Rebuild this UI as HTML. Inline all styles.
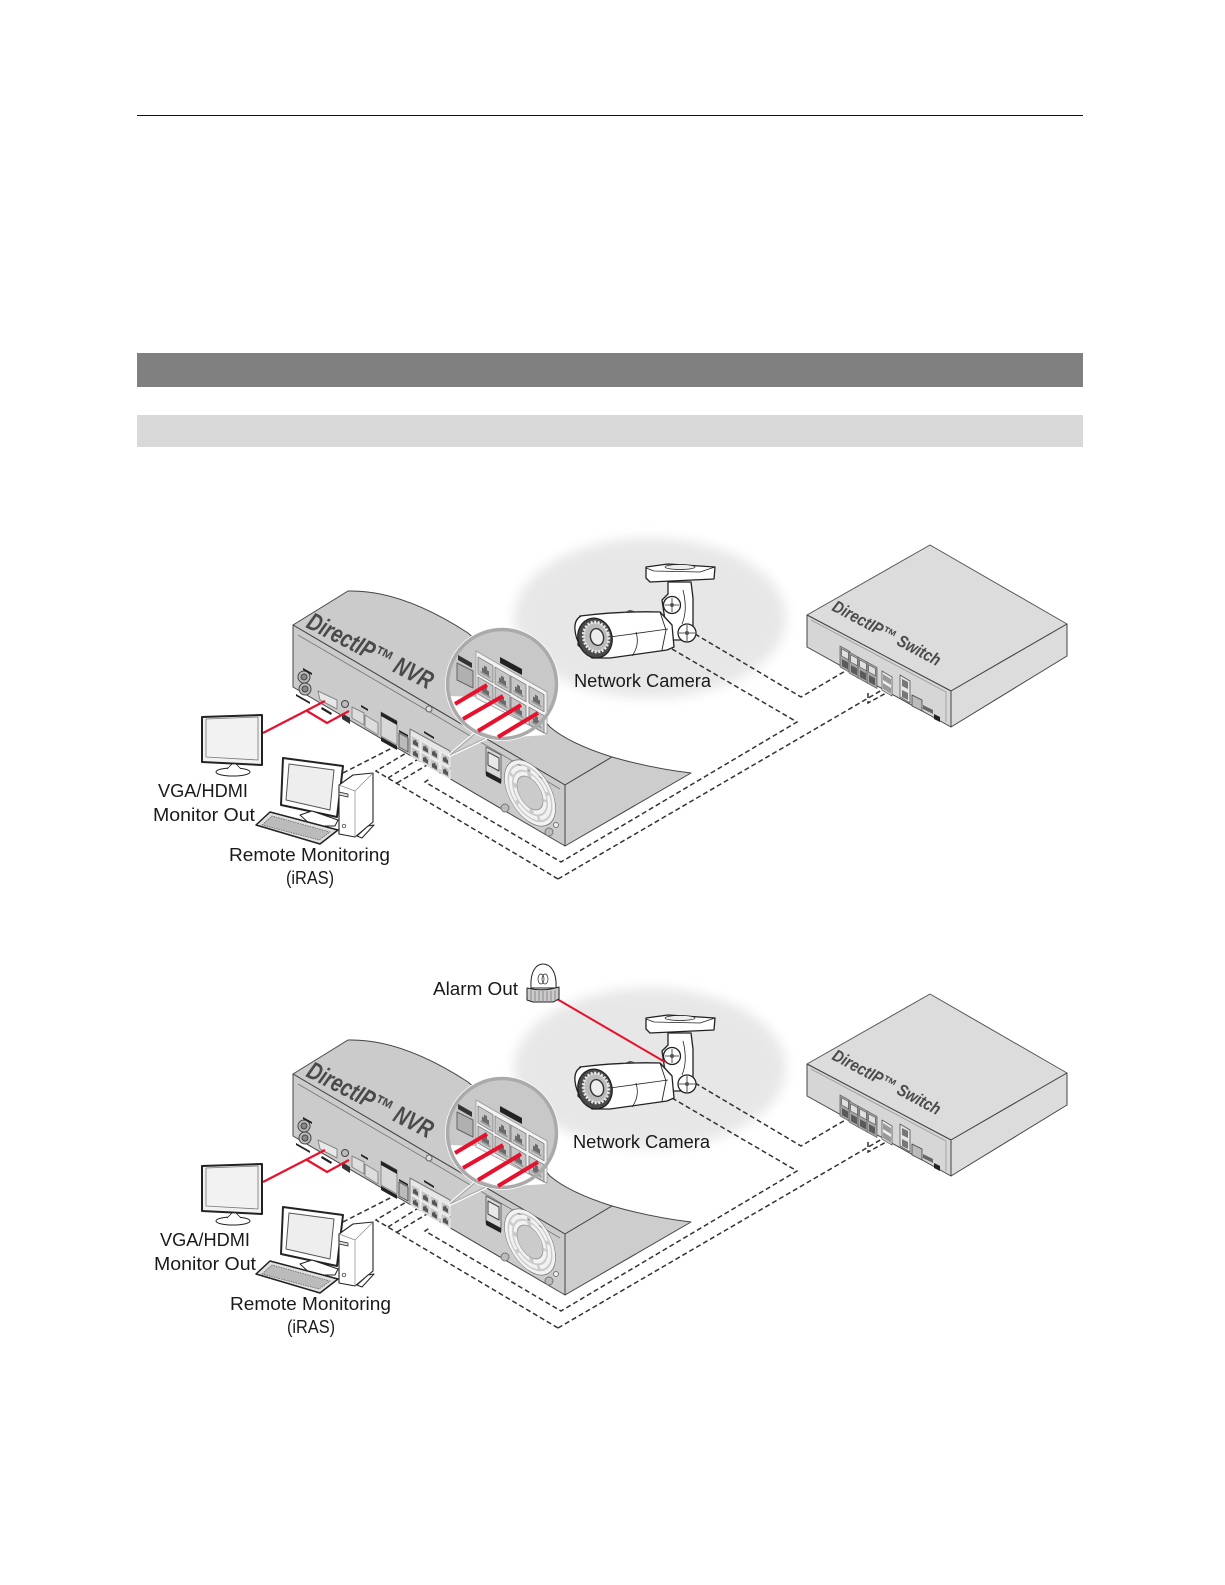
<!DOCTYPE html>
<html><head><meta charset="utf-8"><style>
html,body{margin:0;padding:0;background:#fff}
svg{display:block}
text{font-family:"Liberation Sans",sans-serif;fill:#1a1a1a}
.lb{font-size:18px}
.br{font-weight:bold;font-style:italic;fill:#4a4a4a}
</style></head><body>
<svg width="1225" height="1585" viewBox="0 0 1225 1585" xmlns="http://www.w3.org/2000/svg">
<defs>
<filter id="bl" x="-20%" y="-20%" width="140%" height="140%"><feGaussianBlur stdDeviation="6"/></filter>
<g id="rj"><rect x="0" y="0" width="15" height="17" fill="#c6c6c6" stroke="#777" stroke-width=".8"/><path d="M4 13V8h2V5h3v3h2v5z" fill="#6a6a6a"/><rect x="2.5" y="12.5" width="10" height="2" fill="#999"/></g>
<g id="rs"><rect x="0" y="0" width="9" height="10" fill="#c8c8c8" stroke="#f0f0f0" stroke-width="1"/><path d="M2 8V4h1.5V2.5h2V4H7v4z" fill="#555"/></g>
<g id="sp"><rect x="0" y="0" width="10" height="21" fill="#a5a5a5" stroke="#555" stroke-width=".7"/><rect x="1.5" y="2" width="7" height="7" fill="#e0e0e0" stroke="#444" stroke-width=".6"/><path d="M2 12h6v7H2z" fill="#5a5a5a"/></g>

<g id="ell"><ellipse cx="650" cy="618" rx="136" ry="80" fill="#e7e7e7" filter="url(#bl)"/></g>

<g id="cam" stroke="#222" stroke-width="1.3" stroke-linejoin="round">
 <path d="M646 567L668 564L715 567L714 579L650 582L646 578Z" fill="#fff"/>
 <path d="M646 568L654 571L700 572L715 567" fill="none" stroke-width=".8"/>
 <ellipse cx="680" cy="567" rx="15" ry="2.5" fill="#eee" stroke-width=".7"/>
 <path d="M668 582L668 594L662 600L668 640L690 640L693 630L693 598L691 582Z" fill="#fff"/>
 <path d="M683 590Q688 610 682 624" fill="none" stroke-width=".8"/>
 <circle cx="672" cy="605" r="8.5" fill="#fff"/>
 <path d="M672 598V612M665 605H679" fill="none" stroke-width=".8"/>
 <circle cx="672" cy="605" r="2" fill="#555" stroke="none"/>
 <path d="M580 616Q620 611 660 612L672 625L674 647L667 650L610 658L592 658L578 645Z" fill="#fff"/>
 <path d="M610 637L668 629M636 632Q640 645 632 656" fill="none" stroke-width=".8"/>
 <path d="M660 612L666 630L662 650" fill="none" stroke-width=".9"/>
 <path d="M581 616Q574 620 575 630Q576 640 581 646" fill="#fff"/>
 <path d="M622 613L630 610L638 612Z" fill="#444" stroke="none"/>
 <ellipse cx="595" cy="638" rx="17" ry="20" fill="#4a4a4a" transform="rotate(-14 595 638)"/>
 <ellipse cx="596" cy="637" rx="12.5" ry="15" fill="#bbb" stroke="#e8e8e8" stroke-width="3" stroke-dasharray="2 1.5" transform="rotate(-14 596 637)"/>
 <ellipse cx="597" cy="637" rx="6.5" ry="8.5" fill="#eee" stroke="#333" stroke-width="1.4" transform="rotate(-14 597 637)"/>
 <circle cx="687" cy="633" r="9" fill="#fff"/>
 <path d="M687 625V641M679 633H695" fill="none" stroke-width=".8"/>
 <circle cx="687" cy="633" r="2" fill="#555" stroke="none"/>
</g>

<g id="dash" fill="none" stroke="#333" stroke-width="1.5" stroke-dasharray="5 3">
 <path d="M695 634L801 697L847 670"/>
 <path d="M672 649L797 722L561 862L425 782L431 778"/>
 <path d="M558 879L376 771L413 749"/>
 <path d="M558 879L882 690"/>
 <path d="M388 778L420 758"/>
 <path d="M397 783L427 765"/>
 <path d="M868 693V703L888 692"/>
 <path d="M343 773L392 748"/>
</g>

<g id="sw" stroke="#555" stroke-width="1" stroke-linejoin="round">
 <path d="M930 545L1067 624L951 691L807 615Z" fill="#dcdcdc"/>
 <path d="M807 615L951 691V727L807 647Z" fill="#d6d6d6" stroke="#444"/>
 <path d="M951 691L1067 624V656L951 727Z" fill="#dcdcdc" stroke="#444"/>
 <path d="M811 620L946 692V722" fill="none" stroke="#999" stroke-width=".8"/>
 <g stroke="none">
 <use href="#sp" transform="matrix(1,.55,0,1,840,646)"/>
 <use href="#sp" transform="matrix(1,.55,0,1,849,652)"/>
 <use href="#sp" transform="matrix(1,.55,0,1,858,657)"/>
 <use href="#sp" transform="matrix(1,.55,0,1,867,662)"/>
 <path d="M882 671L892 677V696L882 690Z" fill="#eee" stroke="#555" stroke-width=".8"/>
 <path d="M883 674L891 679V685L883 680ZM883 683L891 688V694L883 689Z" fill="#999"/>
 <path d="M900 675L910 681V703L900 697Z" fill="#e5e5e5" stroke="#555" stroke-width=".8"/>
 <path d="M902 679L908 682V689L902 686ZM902 690L908 693V700L902 697Z" fill="#777"/>
 <path d="M912 695L922 700V711L912 706Z" fill="#bbb" stroke="#444" stroke-width=".8"/>
 <path d="M923 705L933 710V714L923 709Z" fill="#666"/>
 <path d="M934 714L940 717V722L934 719Z" fill="#222"/>
 </g>
</g>

<g id="nvr" stroke="#444" stroke-width="1" stroke-linejoin="round">
 <path d="M293 625L348 591C385 590 425 605 468 633C500 660 530 705 550 727C565 740 590 750 612 757L565 785Z" fill="#cbcbcb"/>
 <path d="M565 785L612 757C640 765 665 770 691 773L565 846Z" fill="#cdcdcd"/>
 <path d="M293 625L565 785V846L293 687Z" fill="#cbcbcb"/>
 <path d="M298 635L428 711L560 789" fill="none" stroke="#777" stroke-width=".8"/>
 <circle cx="429" cy="709" r="3" fill="#ddd" stroke="#666"/>
 <!-- left ports -->
 <circle cx="304" cy="677" r="6" fill="#bbb"/><circle cx="304" cy="677" r="3" fill="#888"/>
 <circle cx="305" cy="689" r="6" fill="#bbb"/><circle cx="305" cy="689" r="3" fill="#888"/>
 <path d="M303 668L312 673V675L303 670Z" fill="#222" stroke="none"/>
 <path d="M296 694L310 702V704L296 696Z" fill="#222" stroke="none"/>
 <path d="M318 691L337 700V709L320 700Z" fill="#e8e8e8" stroke="#888"/>
 <path d="M322 707L332 713L331 715L321 709Z" fill="#222" stroke="none"/>
 <circle cx="345" cy="704" r="3.5" fill="#bbb"/>
 <path d="M342 713L350 718V724L342 719Z" fill="#333" stroke="none"/>
 <path d="M352 707L364 713V725L352 718Z" fill="#ddd" stroke="#888"/>
 <path d="M365 715L378 723V735L365 727Z" fill="#ddd" stroke="#888"/>
 <path d="M361 705L368 709V711L361 707Z" fill="#222" stroke="none"/>
 <path d="M381 712L397 721V745L381 736Z" fill="#d8d8d8" stroke="#888"/>
 <path d="M381 712L397 721V725L381 716ZM381 737L397 746V750L381 741Z" fill="#222" stroke="none"/>
 <path d="M399 733L408 738V752L399 747Z" fill="#bbb" stroke="#555"/>
 <path d="M399 730L408 735V737L399 732Z" fill="#222" stroke="none"/>
 <path d="M410 729L450 751V776L410 753Z" fill="#e6e6e6" stroke="#777"/>
 <path d="M424 731L434 737V739L424 733Z" fill="#222" stroke="none"/>
 <use href="#rs" transform="matrix(1,.55,0,1,411,735)" stroke="none"/>
 <use href="#rs" transform="matrix(1,.55,0,1,421,741)" stroke="none"/>
 <use href="#rs" transform="matrix(1,.55,0,1,430,746)" stroke="none"/>
 <use href="#rs" transform="matrix(1,.55,0,1,441,752)" stroke="none"/>
 <use href="#rs" transform="matrix(1,.55,0,1,411,746)" stroke="none"/>
 <use href="#rs" transform="matrix(1,.55,0,1,421,752)" stroke="none"/>
 <use href="#rs" transform="matrix(1,.55,0,1,430,758)" stroke="none"/>
 <use href="#rs" transform="matrix(1,.55,0,1,441,764)" stroke="none"/>
 <!-- power -->
 <path d="M486 747L501 755V782L486 774Z" fill="#d8d8d8" stroke="#666"/>
 <path d="M488 752L499 758V771L488 765Z" fill="#e8e8e8" stroke="#444"/>
 <path d="M486 771L501 779V784L486 776Z" fill="#222" stroke="none"/>
 <!-- fan -->
 <g transform="matrix(1,.6,0,1.15,530,793)" fill="none">
  <circle r="24" stroke="#f2f2f2" stroke-width="3"/>
  <circle r="25.5" stroke="#666" stroke-width=".5"/>
  <circle r="19.5" stroke="#f2f2f2" stroke-width="3" stroke-dasharray="20 3"/>
  <circle r="15" stroke="#f2f2f2" stroke-width="3" stroke-dasharray="20 4"/>
  <circle r="13" stroke="#888" stroke-width=".5"/>
 </g>
 <circle cx="505" cy="808" r="4" fill="#bbb" stroke="#777"/>
 <circle cx="549" cy="832" r="4" fill="#bbb" stroke="#777"/>
 <circle cx="556" cy="825" r="2.5" fill="#eee" stroke="#777"/>
 <!-- inset tail -->
 <path d="M450 755L477 732L486 738Z" fill="#d8d8d8" stroke="#fff" stroke-width="3.5"/>
 <path d="M450 755L477 732L486 738Z" fill="#d0d0d0" stroke="#aaa" stroke-width="1.2"/>
 <!-- inset -->
 <circle cx="502" cy="684" r="57" fill="#fff" stroke="none"/>
 <circle cx="502" cy="684" r="54" fill="#c8c8c8" stroke="none"/>
 <path d="M449 696L476 697L546 735L500 738L470 728L455 712Z" fill="#fff" stroke="none"/>
 <path d="M476 651L547 692V734L476 698Z" fill="#f2f2f2" stroke="#999" stroke-width=".8"/>
 <path d="M457 663L473 671V688L457 680Z" fill="#b0b0b0" stroke="#666"/>
 <path d="M458 655L472 663V668L458 660Z" fill="#333" stroke="none"/>
 <path d="M500 657L522 669V675L500 663Z" fill="#222" stroke="none"/>
 <g stroke="none">
 <use href="#rj" transform="matrix(1,.58,0,1,478,657)"/>
 <use href="#rj" transform="matrix(1,.58,0,1,495,667)"/>
 <use href="#rj" transform="matrix(1,.58,0,1,511,676)"/>
 <use href="#rj" transform="matrix(1,.58,0,1,529,686)"/>
 <use href="#rj" transform="matrix(1,.58,0,1,478,677)"/>
 <use href="#rj" transform="matrix(1,.58,0,1,495,687)"/>
 <use href="#rj" transform="matrix(1,.58,0,1,511,697)"/>
 <use href="#rj" transform="matrix(1,.58,0,1,529,707)"/>
 </g>
 <circle cx="502" cy="684" r="54.5" fill="none" stroke="#aaa" stroke-width="3.5"/>
 <g stroke="#e8112d" stroke-width="4" fill="none" stroke-linecap="butt">
  <path d="M455 704L487 685"/><path d="M463 719L503 696"/><path d="M478 731L521 705"/><path d="M498 737L538 713"/>
 </g>
</g>

<g id="red" fill="none" stroke="#e8112d" stroke-width="2.2">
 <path d="M263 733L325 701"/>
 <path d="M307 711L327 723L349 711"/>
</g>

<g id="mon" stroke="#222" stroke-linejoin="round">
 <path d="M202 717L262 715L262 765L202 762Z" fill="#f2f2f2" stroke-width="2"/>
 <path d="M206 719L258 717V760L206 757Z" fill="#f2f2f2" stroke="#777" stroke-width=".8"/>
 <ellipse cx="233" cy="772" rx="17" ry="4" fill="#fff" stroke-width="1"/>
 <path d="M227 769L232 764H236L241 769" fill="#fff" stroke-width=".8"/>
 <path d="M283 758L343 766L337 817L281 805Z" fill="#fff" stroke-width="2"/>
 <path d="M289 764L334 770L330 810L286 800Z" fill="#eee" stroke="#555" stroke-width="1"/>
 <path d="M300 815L312 811L338 820L335 826L312 826Z" fill="#fff" stroke-width="1"/>
 <path d="M256 825L270 812L338 830L320 844Z" fill="#e0e0e0" stroke-width="1.5"/>
 <path d="M262 825L272 816L330 832L319 840Z" fill="#bbb" stroke="#666" stroke-width=".8" stroke-dasharray="1.5 1"/>
 <path d="M339 785L353 775L373 773L373 822L355 837L339 834Z" fill="#fff" stroke-width="1.1"/>
 <path d="M339 785L355 791L355 837M355 791L373 773" fill="none" stroke-width=".7" stroke="#888"/>
 <path d="M339 792L348 794V797L339 795Z" fill="#ddd" stroke-width=".7"/>
 <circle cx="344" cy="826" r="1.8" fill="#fff" stroke-width=".7"/>
 <path d="M357 836L368 826L374 825L362 838Z" fill="#fff" stroke-width="1"/>
</g>

<g id="dia">
 <use href="#dash"/>
 <use href="#sw"/>
 <use href="#nvr"/>
 <use href="#red"/>
 <use href="#mon"/>
</g>
</defs>

<rect width="1225" height="1585" fill="#fff"/>
<rect x="137" y="115" width="946" height="1" fill="#111"/>
<rect x="137" y="353" width="946" height="34" fill="#808080"/>
<rect x="137" y="415" width="946" height="32" fill="#d9d9d9"/>

<!-- diagram 1 -->
<use href="#ell"/>
<use href="#dia"/>
<use href="#cam"/>
<text class="br" font-size="25" transform="translate(305,627) rotate(27)" textLength="138" lengthAdjust="spacingAndGlyphs">DirectIP™ NVR</text>
<text class="br" font-size="17" transform="translate(831,610) rotate(28)" textLength="120" lengthAdjust="spacingAndGlyphs">DirectIP™ Switch</text>
<text class="lb" x="574" y="687" textLength="137" lengthAdjust="spacingAndGlyphs">Network Camera</text>
<text class="lb" x="158" y="797" textLength="90" lengthAdjust="spacingAndGlyphs">VGA/HDMI</text>
<text class="lb" x="153" y="821" textLength="102" lengthAdjust="spacingAndGlyphs">Monitor Out</text>
<text class="lb" x="229" y="861" textLength="161" lengthAdjust="spacingAndGlyphs">Remote Monitoring</text>
<text class="lb" x="286" y="884" textLength="48" lengthAdjust="spacingAndGlyphs">(iRAS)</text>

<!-- diagram 2 -->
<use href="#ell" y="450"/>
<use href="#dia" y="449"/>
<use href="#cam" y="451"/>
<path d="M557 999L665 1062" fill="none" stroke="#e8112d" stroke-width="2"/>
<g stroke="#222" stroke-linejoin="round">
 <path d="M531 988C530 970 537 964 543 964C550 964 557 971 556 988Z" fill="#fff"/>
 <path d="M527 988Q543 992 559 987V999L553 1002H533L527 1000Z" fill="#ccc"/>
 <path d="M531 990V1001M535 991V1002M539 991V1002M543 991V1002M547 991V1002M551 991V1002M555 990V1001" stroke="#888" stroke-width="1" fill="none"/>
 <ellipse cx="541" cy="979" rx="3" ry="5" fill="none" stroke-width=".7"/><ellipse cx="545" cy="979" rx="3" ry="5" fill="none" stroke-width=".7"/>
</g>
<text class="lb" x="433" y="995" textLength="85" lengthAdjust="spacingAndGlyphs">Alarm Out</text>
<text class="br" font-size="25" transform="translate(305,1076) rotate(27)" textLength="138" lengthAdjust="spacingAndGlyphs">DirectIP™ NVR</text>
<text class="br" font-size="17" transform="translate(831,1059) rotate(28)" textLength="120" lengthAdjust="spacingAndGlyphs">DirectIP™ Switch</text>
<text class="lb" x="573" y="1148" textLength="137" lengthAdjust="spacingAndGlyphs">Network Camera</text>
<text class="lb" x="160" y="1246" textLength="90" lengthAdjust="spacingAndGlyphs">VGA/HDMI</text>
<text class="lb" x="154" y="1270" textLength="102" lengthAdjust="spacingAndGlyphs">Monitor Out</text>
<text class="lb" x="230" y="1310" textLength="161" lengthAdjust="spacingAndGlyphs">Remote Monitoring</text>
<text class="lb" x="287" y="1333" textLength="48" lengthAdjust="spacingAndGlyphs">(iRAS)</text>
</svg>
</body></html>
